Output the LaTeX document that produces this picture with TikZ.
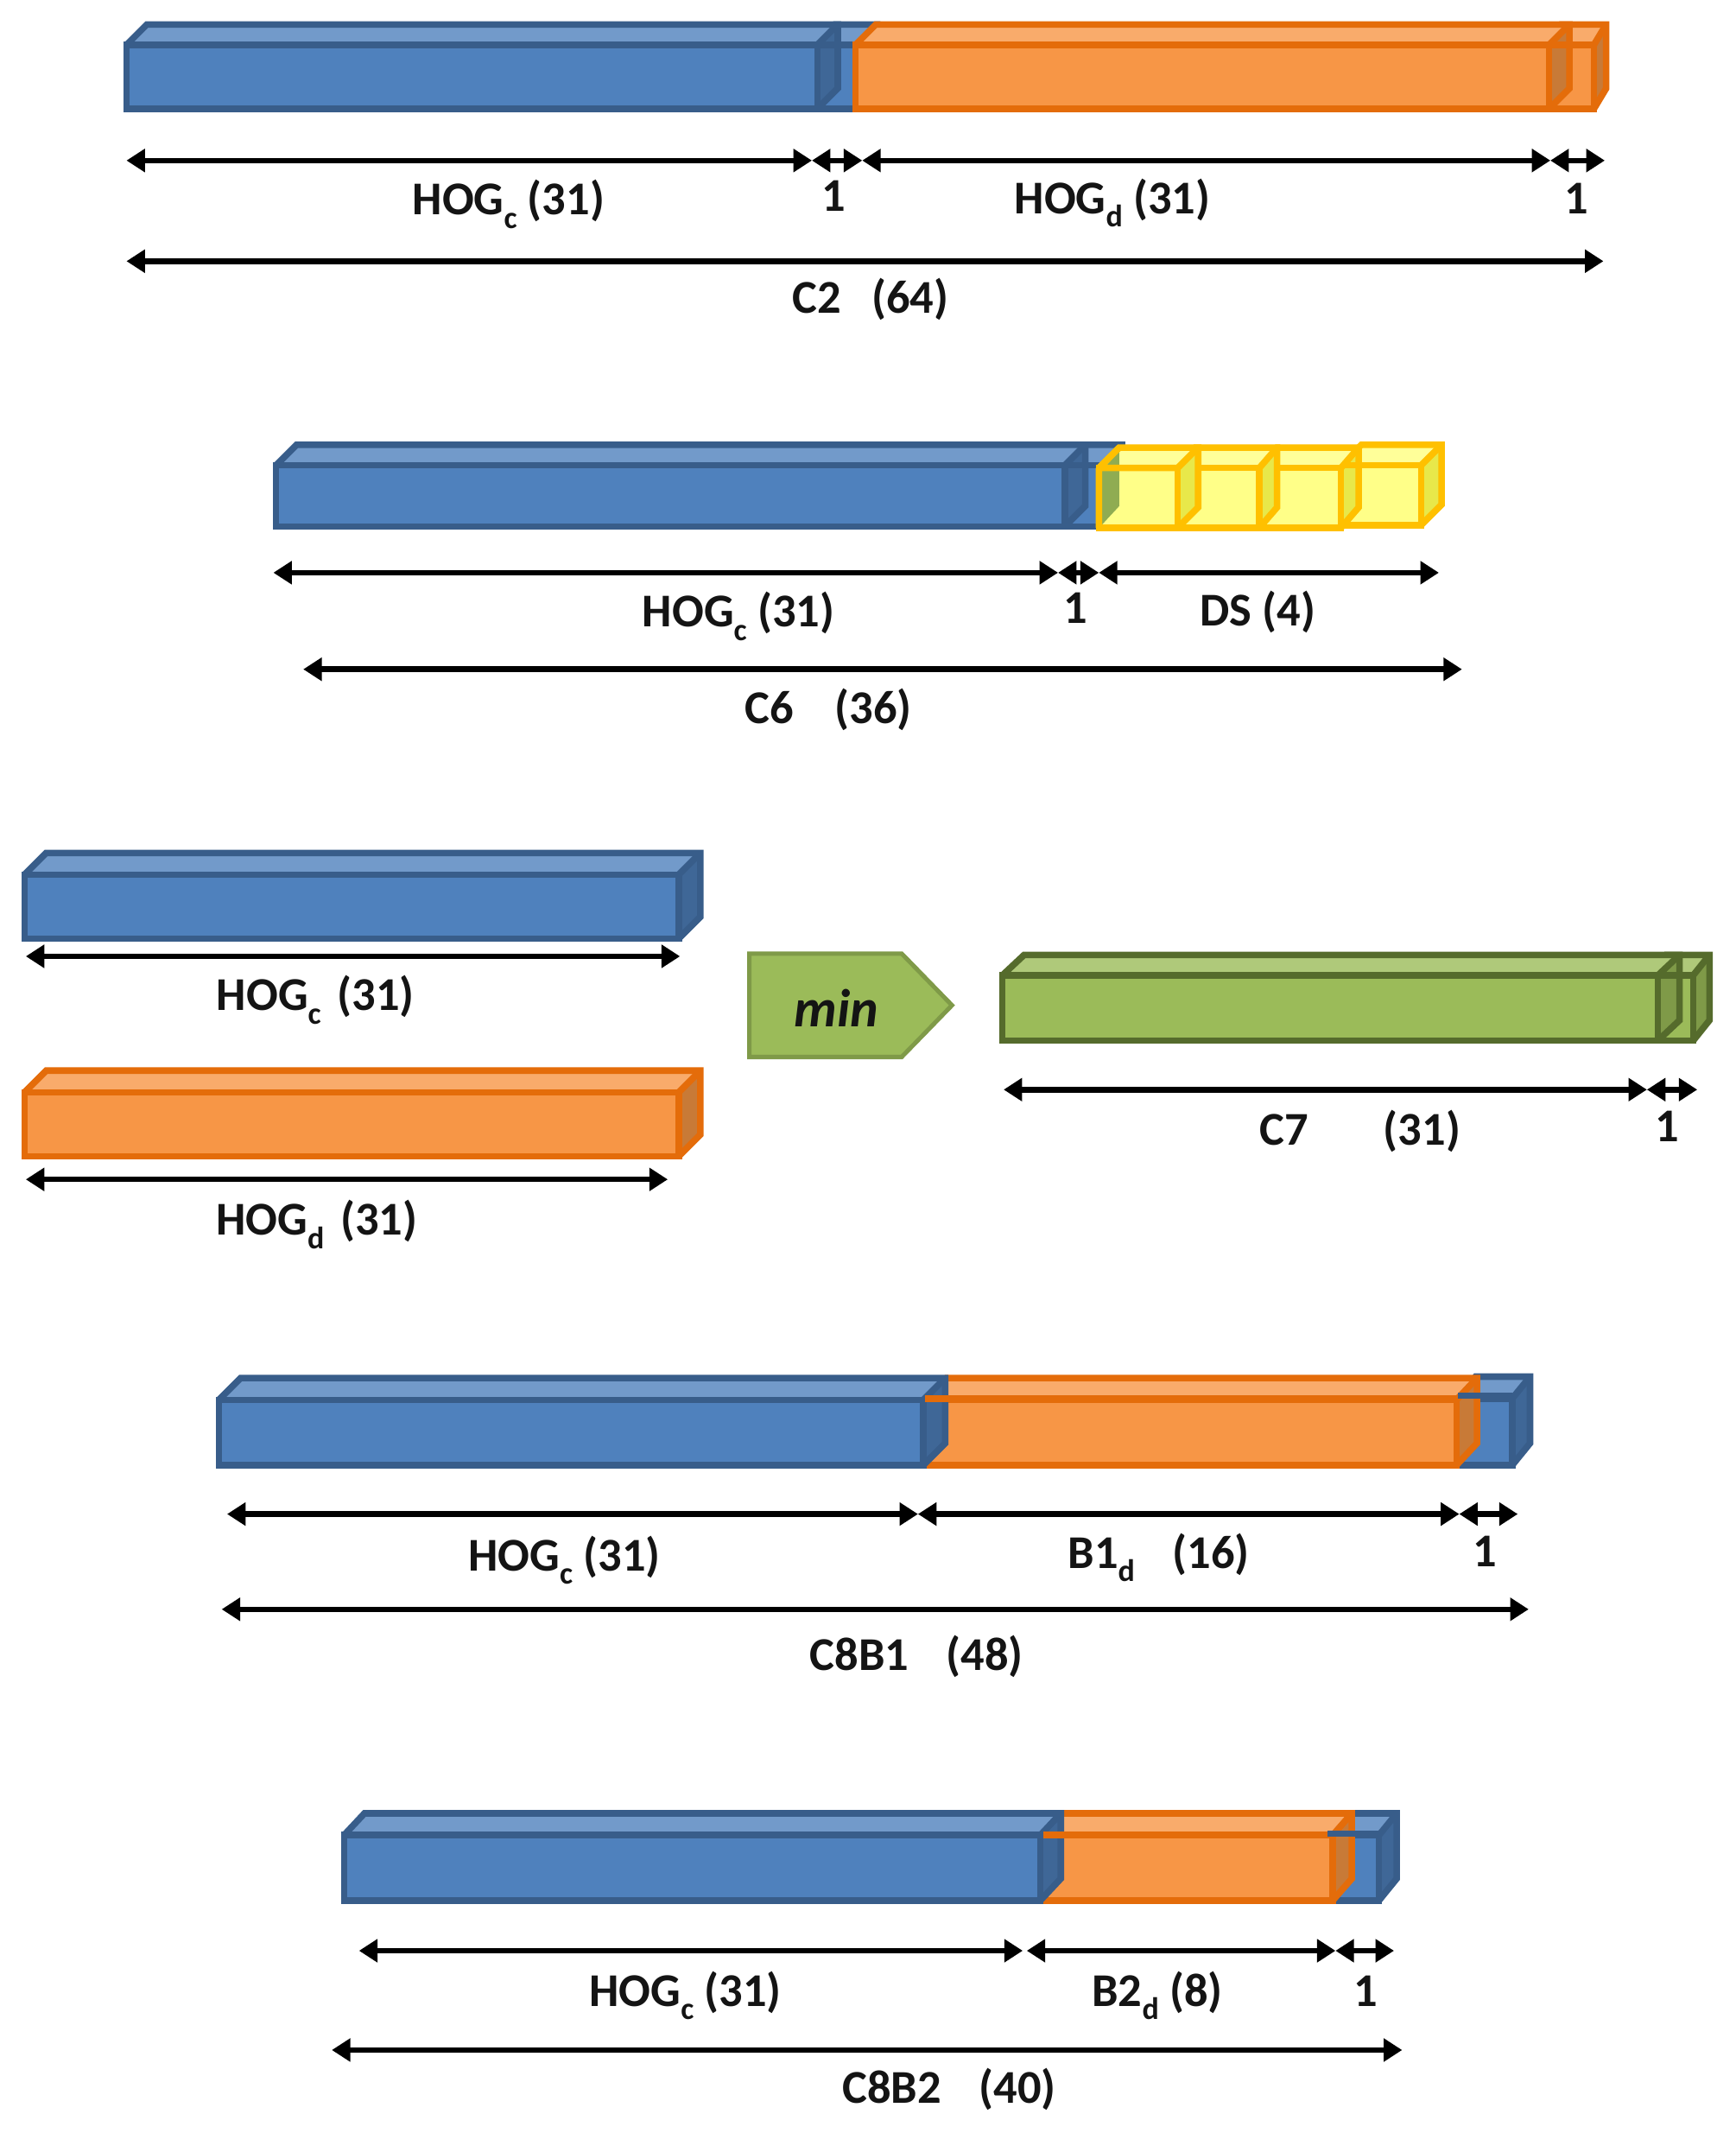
\documentclass[tikz,border=0pt]{standalone}
\usepackage{fontspec}
\setmainfont{Carlito}
\usetikzlibrary{arrows.meta}
\definecolor{bluef}{HTML}{4F81BD}\definecolor{bluet}{HTML}{729ACA}\definecolor{blues}{HTML}{3F6797}\definecolor{bluel}{HTML}{385D8A}
\definecolor{orangef}{HTML}{F79646}\definecolor{oranget}{HTML}{F9AB6B}\definecolor{oranges}{HTML}{C87A37}\definecolor{orangel}{HTML}{E46C0A}
\definecolor{greenf}{HTML}{9BBB59}\definecolor{greent}{HTML}{AFC97A}\definecolor{greens}{HTML}{7F9A48}\definecolor{greenl}{HTML}{556B2C}
\definecolor{yellowf}{HTML}{FFFF88}\definecolor{yellowt}{HTML}{FFFF99}\definecolor{yellows}{HTML}{E8E84A}\definecolor{yellowl}{HTML}{FFC000}
\tikzset{
  barline/.style={line width=4.8*0.7pt,line join=miter},
  dim/.style={line width=4.1*0.7pt,{Triangle[length=9.5pt,width=11.5pt]}-{Triangle[length=9.5pt,width=11.5pt]}},
  lab/.style={font=\fontsize{24.2}{28}\selectfont\bfseries,inner sep=0pt,anchor=base,text=black!92},
}
\newcommand{\lowsub}[1]{\raisebox{-0.28em}{\fontsize{16}{18}\selectfont #1}}
% \boxbar{colour}{x1}{y1}{x2}{y2}{dx}{dy}
\newcommand{\boxbar}[7]{%
  \fill[#1f] (#2,#3) rectangle (#4,#5);
  \fill[#1t] (#2,#3) -- (#2+#6,#3-#7) -- (#4+#6,#3-#7) -- (#4,#3) -- cycle;
  \fill[#1s] (#4,#3) -- (#4+#6,#3-#7) -- (#4+#6,#5-#7) -- (#4,#5) -- cycle;
  \draw[barline,#1l] (#2,#3) rectangle (#4,#5);
  \draw[barline,#1l] (#2,#3) -- (#2+#6,#3-#7) -- (#4+#6,#3-#7) -- (#4+#6,#5-#7) -- (#4,#5);
  \draw[barline,#1l] (#4,#3) -- (#4+#6,#3-#7);
}
% \dimline{name}{x1}{x2}{y}
\newcommand{\dimline}[4]{%
  \coordinate (#1a) at (#2,#4);
  \coordinate (#1b) at (#3,#4);
  \draw[dim] (#1a) -- (#1b);
}
\begin{document}
\begin{tikzpicture}[x=0.7pt,y=-0.7pt]
\useasboundingbox (0,0) rectangle (1276,1568);
\fill[white] (0,0) rectangle (1276,1568);

% C2
\boxbar{blue}{601}{33}{632}{80}{13}{15}
\boxbar{blue}{93}{33}{601}{80}{15}{15}
\draw[barline,bluel] (601,33) -- (632,33);
\boxbar{orange}{1139}{33}{1172}{80}{9}{15}
\boxbar{orange}{629}{33}{1139}{80}{15}{15}
\draw[barline,orangel] (1139,33) -- (1172,33);
\dimline{ca}{93}{597}{118}
\dimline{cb}{597}{634}{118}
\dimline{cc}{634}{1140}{118}
\dimline{cd}{1140}{1180}{118}
\dimline{ce}{93}{1179}{192}
\node[lab] (l1) at (374,158) {HOG\lowsub{c} (31)};
\node[lab] (l2) at (613,155) {1};
\node[lab] (l3) at (818,157) {HOG\lowsub{d} (31)};
\node[lab] (l4) at (1159,157) {1};
\node[lab] (l5) at (640,230) {C2\hspace{0.65em}(64)};

% C6
\boxbar{blue}{783}{342}{812}{387}{13}{15}
\boxbar{blue}{203}{342}{783}{387}{15}{15}
\draw[barline,bluel] (783,342) -- (812,342);
\boxbar{yellow}{986}{342}{1045}{386}{15}{15}
\boxbar{yellow}{926}{344}{986}{388}{13}{15}
\boxbar{yellow}{866}{344}{926}{388}{13}{15}
\boxbar{yellow}{808}{344}{866}{388}{15}{15}
\fill[greenf!92!black] (810,346) -- (823,332) -- (823,372) -- (810,386) -- cycle;
\draw[barline,yellowl] (808,344) -- (866,344) (808,344) -- (808,388) (808,344) -- (823,329);
\draw[barline,yellowl] (866,344) -- (866,388) (926,344) -- (926,388) (986,342) -- (986,386);
\draw[barline,yellowl] (986,342) -- (1045,342);
\dimline{da}{201}{778}{421}
\dimline{db}{778}{808}{421}
\dimline{dc}{808}{1058}{421}
\dimline{dd}{223}{1075}{492}
\node[lab] (l6) at (543,461) {HOG\lowsub{c} (31)};
\node[lab] (l7) at (791,458) {1};
\node[lab] (l8) at (925,460) {DS (4)};
\node[lab] (l9) at (609,532) {C6\hspace{0.88em}(36)};

% C7
\boxbar{blue}{18}{643}{499}{690}{16}{16}
\dimline{ea}{19}{500}{703}
\node[lab] (l10) at (232,743) {HOG\lowsub{c}\hspace{0.12em} (31)};
\boxbar{orange}{18}{803}{499}{850}{16}{16}
\dimline{eb}{19}{491}{867}
\node[lab] (l11) at (233,908) {HOG\lowsub{d}\hspace{0.12em} (31)};
\draw[draw=greens,fill=greenf,line width=3.2*0.7pt] (551,701) -- (663,701) -- (700,739) -- (663,777) -- (551,777) -- cycle;
\node[font=\fontsize{27.5}{32}\selectfont\bfseries\itshape,inner sep=0pt,text=black!92] (minlabel) at (615,741) {min};
\boxbar{green}{1213}{717}{1245}{765}{12}{15}
\boxbar{green}{737}{717}{1219}{765}{16}{15}
\draw[barline,greenl] (1213,717) -- (1245,717);
\dimline{fa}{738}{1211}{801}
\dimline{fb}{1211}{1248}{801}
\node[lab] (l12) at (1000,842) {C7\hspace{1.6em}(31)};
\node[lab] (l13) at (1226,839) {1};

% C8B1
\boxbar{blue}{1072}{1028}{1112}{1077}{13}{16}
\boxbar{orange}{681}{1029}{1071}{1077}{15}{16}
\boxbar{blue}{161}{1029}{679}{1077}{16}{16}
\draw[barline,orangel] (680,1028) -- (1071,1028);
\draw[barline,bluel] (1072,1026) -- (1112,1026);
\dimline{ga}{167}{675}{1113}
\dimline{gb}{675}{1073}{1113}
\dimline{gc}{1073}{1116}{1113}
\dimline{gd}{163}{1124}{1183}
\node[lab] (l14) at (415,1155) {HOG\lowsub{c} (31)};
\node[lab] (l15) at (852,1153) {B1\lowsub{d}\hspace{0.8em}(16)};
\node[lab] (l16) at (1092,1152) {1};
\node[lab] (l17) at (674,1228) {C8B1\hspace{0.8em}(48)};

% C8B2
\boxbar{blue}{976}{1349}{1014}{1397}{13}{16}
\boxbar{orange}{767}{1349}{980}{1397}{14}{16}
\boxbar{blue}{253}{1349}{765}{1397}{15}{16}
\draw[barline,orangel] (767,1349) -- (980,1349);
\draw[barline,bluel] (976,1348) -- (1014,1348);
\dimline{ha}{264}{752}{1434}
\dimline{hb}{755}{982}{1434}
\dimline{hc}{982}{1025}{1434}
\dimline{hd}{244}{1031}{1507}
\node[lab] (l18) at (504,1475) {HOG\lowsub{c} (31)};
\node[lab] (l19) at (851,1475) {B2\lowsub{d} (8)};
\node[lab] (l20) at (1004,1475) {1};
\node[lab] (l21) at (698,1546) {C8B2\hspace{0.8em}(40)};
\end{tikzpicture}
\end{document}
